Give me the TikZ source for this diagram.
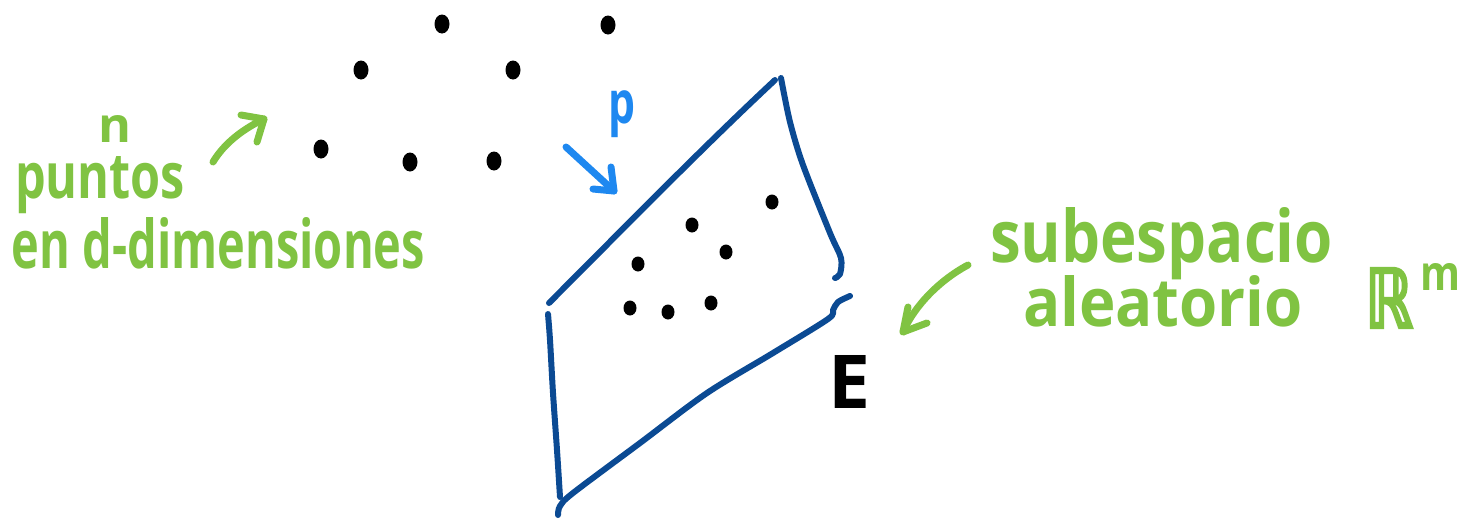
\documentclass[tikz,border=0pt]{standalone}
\usepackage{fontspec}
\usepackage{graphicx}
\setmainfont{Open Sans}
\newfontfamily\symfont[FakeBold=3]{DejaVu Sans}
\definecolor{hgreen}{HTML}{80C342}
\definecolor{pblue}{HTML}{0B4A93}
\definecolor{lblue}{HTML}{1E88F0}
\tikzset{
  txt/.style={inner sep=0pt, outer sep=0pt, anchor=base west, font=\bfseries},
  planeline/.style={draw=pblue, line width=6pt, line cap=round, line join=round},
  greenstroke/.style={draw=hgreen, line width=7pt, line cap=round, line join=round},
  bluestroke/.style={draw=lblue, line width=7pt, line cap=round, line join=round},
  dotfill/.style={fill=black},
}
\begin{document}
\begin{tikzpicture}[x=1pt,y=-1pt]
\useasboundingbox (0,0) rectangle (1478,523);
% outer points
\foreach \x/\y in {442/24, 608/25, 361/70, 513/70, 321/149, 410/162, 494/161}
  \fill[dotfill] (\x,\y) ellipse [x radius=7.5, y radius=9.5];
% points on subspace
\foreach \x/\y in {772/202, 692/225, 726/252, 638/264, 630/308, 668/312, 711/303}
  \fill[dotfill] (\x,\y) ellipse [x radius=6.5, y radius=7.5];
% plane
\draw[planeline] (549,303) .. controls (620,232) and (700,150) .. (775,80);
\draw[planeline] plot[smooth] coordinates {(781,78) (790,122) (803,165) (830,233) (841,258) (840,274) (835,278)};
\draw[planeline] plot[smooth] coordinates {(850,296) (838,302) (833,310) (828,319) (773,353) (707,393) (640,443) (573,493) (560,506) (558,515)};
\draw[planeline] plot[smooth] coordinates {(548,314) (550,340) (553,393) (557,450) (560,497)};
% labels
\node[txt, text=hgreen] (n) at (98,142) {\resizebox{33pt}{27pt}{n}};
\node[txt, text=hgreen] (puntos) at (15,198) {\resizebox{170pt}{42pt}{puntos}};
\node[txt, text=hgreen] (dims) at (12,268) {\resizebox{413pt}{51pt}{en d-dimensiones}};
\node[txt, text=hgreen] (sub) at (990,262) {\resizebox{343pt}{55pt}{subespacio}};
\node[txt, text=hgreen] (alea) at (1023,326) {\resizebox{280pt}{51pt}{aleatorio}};
\node[txt, text=hgreen] (R) at (1365,328) {\resizebox{48pt}{60pt}{\symfont ℝ}};
\node[txt, text=hgreen] (m) at (1420,290) {\resizebox{40pt}{27pt}{m}};
\node[txt, text=black] (E) at (828,408) {\resizebox{42pt}{53pt}{E}};
\node[inner sep=0pt, anchor=north west, text=lblue, font=\bfseries] (p) at (608,90) {\resizebox*{27pt}{47pt}{p}};
% arrows
\coordinate (a1s) at (213,162);
\coordinate (a1t) at (264,119);
\draw[greenstroke] (a1s) .. controls (225,142) and (245,128) .. (a1t);
\draw[greenstroke] (241,115) -- (a1t) -- (257,142);
\coordinate (a2s) at (968,265);
\coordinate (a2t) at (903,332);
\draw[greenstroke] (a2s) .. controls (940,280) and (915,305) .. (a2t);
\draw[greenstroke] (908,307) -- (a2t) -- (927,323);
\coordinate (a3s) at (566,147);
\coordinate (a3t) at (614,191);
\draw[bluestroke] (a3s) -- (a3t);
\draw[bluestroke] (611,167) -- (a3t) -- (593,189);
\end{tikzpicture}
\end{document}
